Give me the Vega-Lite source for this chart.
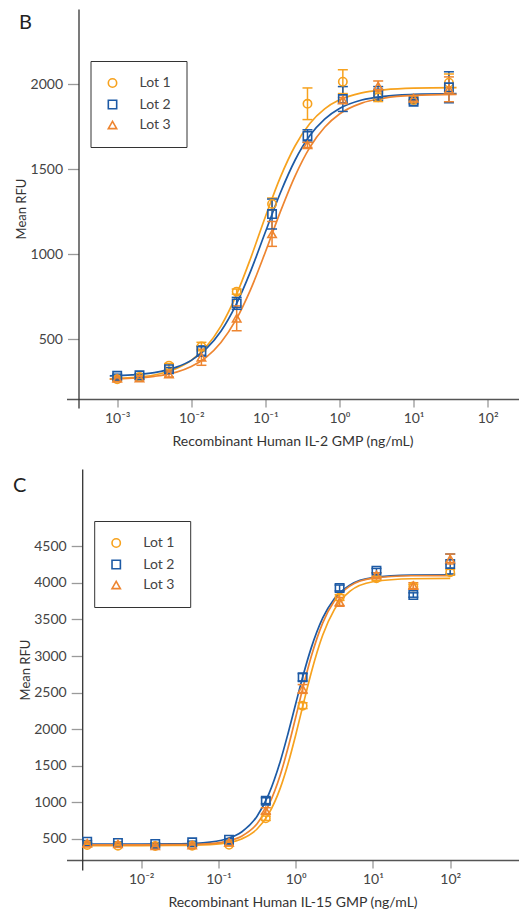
{
  "$schema": "https://vega.github.io/schema/vega-lite/v6.json",
  "padding": {"left": 12.5, "top": 9, "right": 0, "bottom": 0},
  "background": "white",
  "config": {
    "view": {"stroke": null},
    "font": "Lato",
    "axis": {"grid": false, "labelFont": "Lato", "titleFont": "Lato", "labelColor": "#444", "titleColor": "#333", "tickColor": "#9a9a9a", "tickWidth": 1.3, "domainWidth": 1.3, "labelFontSize": 14, "titleFontWeight": "normal"},
    "axisX": {"domainColor": "#555", "tickSize": 8, "labelPadding": 4, "titleFontSize": 14, "titlePadding": 9, "labelFlush": false},
    "axisY": {"domainColor": "#333", "tickSize": 11, "labelPadding": 5, "titleFontSize": 13, "titleBaseline": "middle", "titleX": -57, "format": "d"},
    "legend": {"orient": "none", "legendY": 52, "strokeColor": "#333", "padding": 15, "labelFontSize": 14, "labelColor": "#444", "labelFont": "Lato", "labelOffset": 20, "rowPadding": 5.5, "symbolStrokeWidth": 1.6, "symbolSize": 70},
    "title": {"anchor": "start", "frame": "bounds", "fontSize": 20, "fontWeight": "normal", "color": "#222", "baseline": "alphabetic", "font": "Lato"}
  },
  "datasets": {
    "curveB": [
      {"lot": "Lot 1", "conc": 0.000794, "rfu": 267}, {"lot": "Lot 1", "conc": 0.001585, "rfu": 274}, {"lot": "Lot 1", "conc": 0.003162, "rfu": 290}, {"lot": "Lot 1", "conc": 0.00631, "rfu": 328}, {"lot": "Lot 1", "conc": 0.01, "rfu": 376}, {"lot": "Lot 1", "conc": 0.01585, "rfu": 455}, {"lot": "Lot 1", "conc": 0.02512, "rfu": 577}, {"lot": "Lot 1", "conc": 0.03981, "rfu": 752}, {"lot": "Lot 1", "conc": 0.0631, "rfu": 975}, {"lot": "Lot 1", "conc": 0.1, "rfu": 1220}, {"lot": "Lot 1", "conc": 0.1585, "rfu": 1450}, {"lot": "Lot 1", "conc": 0.2512, "rfu": 1636}, {"lot": "Lot 1", "conc": 0.3981, "rfu": 1768}, {"lot": "Lot 1", "conc": 0.631, "rfu": 1854}, {"lot": "Lot 1", "conc": 1, "rfu": 1907}, {"lot": "Lot 1", "conc": 1.995, "rfu": 1948}, {"lot": "Lot 1", "conc": 3.981, "rfu": 1966}, {"lot": "Lot 1", "conc": 10, "rfu": 1976}, {"lot": "Lot 1", "conc": 38.02, "rfu": 1979},
      {"lot": "Lot 2", "conc": 0.000794, "rfu": 285}, {"lot": "Lot 2", "conc": 0.001585, "rfu": 291}, {"lot": "Lot 2", "conc": 0.003162, "rfu": 304}, {"lot": "Lot 2", "conc": 0.00631, "rfu": 336}, {"lot": "Lot 2", "conc": 0.01, "rfu": 376}, {"lot": "Lot 2", "conc": 0.01585, "rfu": 443}, {"lot": "Lot 2", "conc": 0.02512, "rfu": 547}, {"lot": "Lot 2", "conc": 0.03981, "rfu": 699}, {"lot": "Lot 2", "conc": 0.0631, "rfu": 899}, {"lot": "Lot 2", "conc": 0.1, "rfu": 1130}, {"lot": "Lot 2", "conc": 0.1585, "rfu": 1358}, {"lot": "Lot 2", "conc": 0.2512, "rfu": 1552}, {"lot": "Lot 2", "conc": 0.3981, "rfu": 1697}, {"lot": "Lot 2", "conc": 0.631, "rfu": 1794}, {"lot": "Lot 2", "conc": 1, "rfu": 1856}, {"lot": "Lot 2", "conc": 1.995, "rfu": 1906}, {"lot": "Lot 2", "conc": 3.981, "rfu": 1928}, {"lot": "Lot 2", "conc": 10, "rfu": 1939}, {"lot": "Lot 2", "conc": 38.02, "rfu": 1944},
      {"lot": "Lot 3", "conc": 0.000794, "rfu": 266}, {"lot": "Lot 3", "conc": 0.001585, "rfu": 271}, {"lot": "Lot 3", "conc": 0.003162, "rfu": 282}, {"lot": "Lot 3", "conc": 0.00631, "rfu": 307}, {"lot": "Lot 3", "conc": 0.01, "rfu": 340}, {"lot": "Lot 3", "conc": 0.01585, "rfu": 394}, {"lot": "Lot 3", "conc": 0.02512, "rfu": 481}, {"lot": "Lot 3", "conc": 0.03981, "rfu": 612}, {"lot": "Lot 3", "conc": 0.0631, "rfu": 792}, {"lot": "Lot 3", "conc": 0.1, "rfu": 1013}, {"lot": "Lot 3", "conc": 0.1585, "rfu": 1247}, {"lot": "Lot 3", "conc": 0.2512, "rfu": 1459}, {"lot": "Lot 3", "conc": 0.3981, "rfu": 1628}, {"lot": "Lot 3", "conc": 0.631, "rfu": 1746}, {"lot": "Lot 3", "conc": 1, "rfu": 1824}, {"lot": "Lot 3", "conc": 1.995, "rfu": 1888}, {"lot": "Lot 3", "conc": 3.981, "rfu": 1917}, {"lot": "Lot 3", "conc": 10, "rfu": 1933}, {"lot": "Lot 3", "conc": 38.02, "rfu": 1939}
    ],
    "ptsB": [
      {"lot": "Lot 1", "conc": 0.001, "rfu": 265, "lo": 253, "hi": 277}, {"lot": "Lot 2", "conc": 0.001, "rfu": 285, "lo": 275, "hi": 295}, {"lot": "Lot 3", "conc": 0.001, "rfu": 270, "lo": 260, "hi": 280},
      {"lot": "Lot 1", "conc": 0.002, "rfu": 278, "lo": 268, "hi": 288}, {"lot": "Lot 2", "conc": 0.002, "rfu": 288, "lo": 278, "hi": 298}, {"lot": "Lot 3", "conc": 0.002, "rfu": 272, "lo": 262, "hi": 282},
      {"lot": "Lot 1", "conc": 0.005, "rfu": 345, "lo": 333, "hi": 357}, {"lot": "Lot 2", "conc": 0.005, "rfu": 324, "lo": 314, "hi": 334}, {"lot": "Lot 3", "conc": 0.005, "rfu": 296, "lo": 278, "hi": 314},
      {"lot": "Lot 1", "conc": 0.0137, "rfu": 457, "lo": 432, "hi": 482}, {"lot": "Lot 2", "conc": 0.0137, "rfu": 431, "lo": 401, "hi": 461}, {"lot": "Lot 3", "conc": 0.0137, "rfu": 394, "lo": 347, "hi": 441},
      {"lot": "Lot 1", "conc": 0.041, "rfu": 780, "lo": 765, "hi": 795}, {"lot": "Lot 2", "conc": 0.041, "rfu": 711, "lo": 676, "hi": 746}, {"lot": "Lot 3", "conc": 0.041, "rfu": 623, "lo": 550, "hi": 696},
      {"lot": "Lot 1", "conc": 0.123, "rfu": 1295, "lo": 1260, "hi": 1330}, {"lot": "Lot 2", "conc": 0.123, "rfu": 1236, "lo": 1148, "hi": 1324}, {"lot": "Lot 3", "conc": 0.123, "rfu": 1119, "lo": 1046, "hi": 1192},
      {"lot": "Lot 1", "conc": 0.37, "rfu": 1884, "lo": 1791, "hi": 1977}, {"lot": "Lot 2", "conc": 0.37, "rfu": 1695, "lo": 1659, "hi": 1731}, {"lot": "Lot 3", "conc": 0.37, "rfu": 1642, "lo": 1627, "hi": 1657},
      {"lot": "Lot 1", "conc": 1.11, "rfu": 2014, "lo": 1944, "hi": 2084}, {"lot": "Lot 2", "conc": 1.11, "rfu": 1912, "lo": 1839, "hi": 1985}, {"lot": "Lot 3", "conc": 1.11, "rfu": 1906, "lo": 1891, "hi": 1921},
      {"lot": "Lot 1", "conc": 3.33, "rfu": 1922, "lo": 1897, "hi": 1947}, {"lot": "Lot 2", "conc": 3.33, "rfu": 1945, "lo": 1905, "hi": 1985}, {"lot": "Lot 3", "conc": 3.33, "rfu": 1988, "lo": 1958, "hi": 2018},
      {"lot": "Lot 1", "conc": 10, "rfu": 1906, "lo": 1894, "hi": 1918}, {"lot": "Lot 2", "conc": 10, "rfu": 1896, "lo": 1884, "hi": 1908}, {"lot": "Lot 3", "conc": 10, "rfu": 1916, "lo": 1904, "hi": 1928},
      {"lot": "Lot 1", "conc": 30, "rfu": 2008, "lo": 1957, "hi": 2059}, {"lot": "Lot 2", "conc": 30, "rfu": 1981, "lo": 1890, "hi": 2072}, {"lot": "Lot 3", "conc": 30, "rfu": 1969, "lo": 1896, "hi": 2042}
    ],
    "curveC": [
      {"lot": "Lot 1", "conc": 0.001738, "rfu": 410}, {"lot": "Lot 1", "conc": 0.003981, "rfu": 410}, {"lot": "Lot 1", "conc": 0.01, "rfu": 410}, {"lot": "Lot 1", "conc": 0.02512, "rfu": 411}, {"lot": "Lot 1", "conc": 0.0631, "rfu": 419}, {"lot": "Lot 1", "conc": 0.1259, "rfu": 446}, {"lot": "Lot 1", "conc": 0.1995, "rfu": 501}, {"lot": "Lot 1", "conc": 0.3162, "rfu": 636}, {"lot": "Lot 1", "conc": 0.4467, "rfu": 843}, {"lot": "Lot 1", "conc": 0.631, "rfu": 1195}, {"lot": "Lot 1", "conc": 0.7943, "rfu": 1526}, {"lot": "Lot 1", "conc": 1, "rfu": 1922}, {"lot": "Lot 1", "conc": 1.259, "rfu": 2352}, {"lot": "Lot 1", "conc": 1.585, "rfu": 2769}, {"lot": "Lot 1", "conc": 2.239, "rfu": 3287}, {"lot": "Lot 1", "conc": 3.162, "rfu": 3635}, {"lot": "Lot 1", "conc": 5.012, "rfu": 3883}, {"lot": "Lot 1", "conc": 10, "rfu": 4015}, {"lot": "Lot 1", "conc": 31.62, "rfu": 4056}, {"lot": "Lot 1", "conc": 100, "rfu": 4060},
      {"lot": "Lot 2", "conc": 0.001738, "rfu": 430}, {"lot": "Lot 2", "conc": 0.003981, "rfu": 430}, {"lot": "Lot 2", "conc": 0.01, "rfu": 431}, {"lot": "Lot 2", "conc": 0.02512, "rfu": 433}, {"lot": "Lot 2", "conc": 0.0631, "rfu": 448}, {"lot": "Lot 2", "conc": 0.1259, "rfu": 499}, {"lot": "Lot 2", "conc": 0.1995, "rfu": 595}, {"lot": "Lot 2", "conc": 0.3162, "rfu": 810}, {"lot": "Lot 2", "conc": 0.4467, "rfu": 1109}, {"lot": "Lot 2", "conc": 0.631, "rfu": 1560}, {"lot": "Lot 2", "conc": 0.7943, "rfu": 1939}, {"lot": "Lot 2", "conc": 1, "rfu": 2348}, {"lot": "Lot 2", "conc": 1.259, "rfu": 2750}, {"lot": "Lot 2", "conc": 1.585, "rfu": 3108}, {"lot": "Lot 2", "conc": 2.239, "rfu": 3520}, {"lot": "Lot 2", "conc": 3.162, "rfu": 3784}, {"lot": "Lot 2", "conc": 5.012, "rfu": 3969}, {"lot": "Lot 2", "conc": 10, "rfu": 4072}, {"lot": "Lot 2", "conc": 31.62, "rfu": 4106}, {"lot": "Lot 2", "conc": 100, "rfu": 4110},
      {"lot": "Lot 3", "conc": 0.001738, "rfu": 420}, {"lot": "Lot 3", "conc": 0.003981, "rfu": 420}, {"lot": "Lot 3", "conc": 0.01, "rfu": 420}, {"lot": "Lot 3", "conc": 0.02512, "rfu": 422}, {"lot": "Lot 3", "conc": 0.0631, "rfu": 431}, {"lot": "Lot 3", "conc": 0.1259, "rfu": 467}, {"lot": "Lot 3", "conc": 0.1995, "rfu": 538}, {"lot": "Lot 3", "conc": 0.3162, "rfu": 708}, {"lot": "Lot 3", "conc": 0.4467, "rfu": 961}, {"lot": "Lot 3", "conc": 0.631, "rfu": 1374}, {"lot": "Lot 3", "conc": 0.7943, "rfu": 1742}, {"lot": "Lot 3", "conc": 1, "rfu": 2163}, {"lot": "Lot 3", "conc": 1.259, "rfu": 2594}, {"lot": "Lot 3", "conc": 1.585, "rfu": 2990}, {"lot": "Lot 3", "conc": 2.239, "rfu": 3454}, {"lot": "Lot 3", "conc": 3.162, "rfu": 3751}, {"lot": "Lot 3", "conc": 5.012, "rfu": 3956}, {"lot": "Lot 3", "conc": 10, "rfu": 4064}, {"lot": "Lot 3", "conc": 31.62, "rfu": 4097}, {"lot": "Lot 3", "conc": 100, "rfu": 4100}
    ],
    "ptsC": [
      {"lot": "Lot 1", "conc": 0.002, "rfu": 418, "lo": 403, "hi": 433}, {"lot": "Lot 2", "conc": 0.002, "rfu": 463, "lo": 448, "hi": 478}, {"lot": "Lot 3", "conc": 0.002, "rfu": 441, "lo": 426, "hi": 456},
      {"lot": "Lot 1", "conc": 0.005, "rfu": 408, "lo": 393, "hi": 423}, {"lot": "Lot 2", "conc": 0.005, "rfu": 445, "lo": 430, "hi": 460}, {"lot": "Lot 3", "conc": 0.005, "rfu": 432, "lo": 417, "hi": 447},
      {"lot": "Lot 1", "conc": 0.0152, "rfu": 403, "lo": 388, "hi": 418}, {"lot": "Lot 2", "conc": 0.0152, "rfu": 432, "lo": 417, "hi": 447}, {"lot": "Lot 3", "conc": 0.0152, "rfu": 408, "lo": 393, "hi": 423},
      {"lot": "Lot 1", "conc": 0.0457, "rfu": 408, "lo": 393, "hi": 423}, {"lot": "Lot 2", "conc": 0.0457, "rfu": 455, "lo": 440, "hi": 470}, {"lot": "Lot 3", "conc": 0.0457, "rfu": 418, "lo": 403, "hi": 433},
      {"lot": "Lot 1", "conc": 0.137, "rfu": 420, "lo": 405, "hi": 435}, {"lot": "Lot 2", "conc": 0.137, "rfu": 490, "lo": 475, "hi": 505}, {"lot": "Lot 3", "conc": 0.137, "rfu": 455, "lo": 440, "hi": 470},
      {"lot": "Lot 1", "conc": 0.41, "rfu": 783, "lo": 753, "hi": 813}, {"lot": "Lot 2", "conc": 0.41, "rfu": 1023, "lo": 983, "hi": 1063}, {"lot": "Lot 3", "conc": 0.41, "rfu": 887, "lo": 847, "hi": 927},
      {"lot": "Lot 1", "conc": 1.23, "rfu": 2322, "lo": 2282, "hi": 2362}, {"lot": "Lot 2", "conc": 1.23, "rfu": 2710, "lo": 2660, "hi": 2760}, {"lot": "Lot 3", "conc": 1.23, "rfu": 2550, "lo": 2490, "hi": 2610},
      {"lot": "Lot 1", "conc": 3.7, "rfu": 3800, "lo": 3760, "hi": 3840}, {"lot": "Lot 2", "conc": 3.7, "rfu": 3930, "lo": 3890, "hi": 3970}, {"lot": "Lot 3", "conc": 3.7, "rfu": 3740, "lo": 3680, "hi": 3800},
      {"lot": "Lot 1", "conc": 11.1, "rfu": 4062, "lo": 4032, "hi": 4092}, {"lot": "Lot 2", "conc": 11.1, "rfu": 4167, "lo": 4137, "hi": 4197}, {"lot": "Lot 3", "conc": 11.1, "rfu": 4108, "lo": 4078, "hi": 4138},
      {"lot": "Lot 1", "conc": 33.3, "rfu": 3950, "lo": 3920, "hi": 3980}, {"lot": "Lot 2", "conc": 33.3, "rfu": 3834, "lo": 3804, "hi": 3864}, {"lot": "Lot 3", "conc": 33.3, "rfu": 3962, "lo": 3922, "hi": 4002},
      {"lot": "Lot 1", "conc": 100, "rfu": 4145, "lo": 4105, "hi": 4185}, {"lot": "Lot 2", "conc": 100, "rfu": 4258, "lo": 4122, "hi": 4394}, {"lot": "Lot 3", "conc": 100, "rfu": 4326, "lo": 4258, "hi": 4394}
    ]
  },
  "columns": 1,
  "align": "none",
  "spacing": 21,
  "resolve": {
    "scale": {"x": "independent", "y": "independent", "color": "independent", "shape": "independent", "stroke": "independent", "fill": "independent"},
    "axis": {"x": "independent", "y": "independent"},
    "legend": {"color": "independent", "shape": "independent"}
  },
  "concat": [
    {
      "width": 452,
      "height": 399,
      "title": {"text": "B", "offset": -24, "dx": 3.5},
      "encoding": {
        "x": {"field": "conc", "type": "quantitative", "title": "Recombinant Human IL-2 GMP (ng/mL)",
              "scale": {"type": "log", "domain": [0.000207, 260.6], "nice": false},
              "axis": {"offset": -9, "values": [0.001, 0.01, 0.1, 1, 10, 100],
                       "labelExpr": "datum.value < 0.005 ? '10⁻³' : datum.value < 0.05 ? '10⁻²' : datum.value < 0.5 ? '10⁻¹' : datum.value < 5 ? '10⁰' : datum.value < 50 ? '10¹' : '10²'"}},
        "y": {"field": "rfu", "type": "quantitative", "title": "Mean RFU",
              "scale": {"domain": [96, 2441], "nice": false, "zero": false},
              "axis": {"offset": -12, "values": [500, 1000, 1500, 2000]}}
      },
      "layer": [
        {
          "data": {"name": "curveB"},
          "mark": {"type": "line", "interpolate": "monotone", "strokeWidth": 1.7},
          "encoding": {
            "stroke": {"field": "lot", "type": "nominal", "scale": {"range": ["#F7A21E", "#1D5AA5", "#EE8530"]}, "legend": null}
          }
        },
        {
          "data": {"name": "ptsB"},
          "mark": {"type": "rule", "strokeWidth": 1.5},
          "encoding": {
            "y": {"field": "lo", "type": "quantitative", "title": "Mean RFU"},
            "y2": {"field": "hi"},
            "stroke": {"field": "lot", "type": "nominal", "legend": null}
          }
        },
        {
          "data": {"name": "ptsB"},
          "mark": {"type": "tick", "orient": "horizontal", "size": 10, "thickness": 1.5, "opacity": 1},
          "encoding": {
            "y": {"field": "lo", "type": "quantitative", "title": "Mean RFU"},
            "fill": {"field": "lot", "type": "nominal", "scale": {"range": ["#F7A21E", "#1D5AA5", "#EE8530"]}, "legend": null}
          }
        },
        {
          "data": {"name": "ptsB"},
          "mark": {"type": "tick", "orient": "horizontal", "size": 10, "thickness": 1.5, "opacity": 1},
          "encoding": {
            "y": {"field": "hi", "type": "quantitative", "title": "Mean RFU"},
            "fill": {"field": "lot", "type": "nominal", "legend": null}
          }
        },
        {
          "data": {"name": "ptsB"},
          "mark": {"type": "point", "filled": false, "strokeWidth": 1.6, "size": 70, "opacity": 1},
          "encoding": {
            "color": {"field": "lot", "type": "nominal", "title": null, "scale": {"domain": ["Lot 1", "Lot 2", "Lot 3"], "range": ["#F7A21E", "#1D5AA5", "#EE8530"]}, "legend": {"legendX": 24}},
            "shape": {"field": "lot", "type": "nominal", "title": null, "scale": {"domain": ["Lot 1", "Lot 2", "Lot 3"], "range": ["circle", "square", "triangle-up"]}, "legend": {"legendX": 24}}
          }
        }
      ]
    },
    {
      "width": 452,
      "height": 401,
      "title": {"text": "C", "offset": -27, "dx": -6.3},
      "encoding": {
        "x": {"field": "conc", "type": "quantitative", "title": "Recombinant Human IL-15 GMP (ng/mL)",
              "scale": {"type": "log", "domain": [0.001079, 765.6], "nice": false},
              "axis": {"offset": -10, "values": [0.01, 0.1, 1, 10, 100],
                       "labelExpr": "datum.value < 0.005 ? '10⁻³' : datum.value < 0.05 ? '10⁻²' : datum.value < 0.5 ? '10⁻¹' : datum.value < 5 ? '10⁰' : datum.value < 50 ? '10¹' : '10²'"}},
        "y": {"field": "rfu", "type": "quantitative", "title": "Mean RFU",
              "scale": {"domain": [76, 5556], "nice": false, "zero": false},
              "axis": {"offset": -15.7, "values": [500, 1000, 1500, 2000, 2500, 3000, 3500, 4000, 4500]}}
      },
      "layer": [
        {
          "data": {"name": "curveC"},
          "mark": {"type": "line", "interpolate": "monotone", "strokeWidth": 1.7},
          "encoding": {
            "stroke": {"field": "lot", "type": "nominal", "scale": {"range": ["#F7A21E", "#1D5AA5", "#EE8530"]}, "legend": null}
          }
        },
        {
          "data": {"name": "ptsC"},
          "mark": {"type": "rule", "strokeWidth": 1.5},
          "encoding": {
            "y": {"field": "lo", "type": "quantitative", "title": "Mean RFU"},
            "y2": {"field": "hi"},
            "stroke": {"field": "lot", "type": "nominal", "legend": null}
          }
        },
        {
          "data": {"name": "ptsC"},
          "mark": {"type": "tick", "orient": "horizontal", "size": 10, "thickness": 1.5, "opacity": 1},
          "encoding": {
            "y": {"field": "lo", "type": "quantitative", "title": "Mean RFU"},
            "fill": {"field": "lot", "type": "nominal", "scale": {"range": ["#F7A21E", "#1D5AA5", "#EE8530"]}, "legend": null}
          }
        },
        {
          "data": {"name": "ptsC"},
          "mark": {"type": "tick", "orient": "horizontal", "size": 10, "thickness": 1.5, "opacity": 1},
          "encoding": {
            "y": {"field": "hi", "type": "quantitative", "title": "Mean RFU"},
            "fill": {"field": "lot", "type": "nominal", "legend": null}
          }
        },
        {
          "data": {"name": "ptsC"},
          "mark": {"type": "point", "filled": false, "strokeWidth": 1.6, "size": 70, "opacity": 1},
          "encoding": {
            "color": {"field": "lot", "type": "nominal", "title": null, "scale": {"domain": ["Lot 1", "Lot 2", "Lot 3"], "range": ["#F7A21E", "#1D5AA5", "#EE8530"]}, "legend": {"legendX": 27.7}},
            "shape": {"field": "lot", "type": "nominal", "title": null, "scale": {"domain": ["Lot 1", "Lot 2", "Lot 3"], "range": ["circle", "square", "triangle-up"]}, "legend": {"legendX": 27.7}}
          }
        }
      ]
    }
  ]
}
